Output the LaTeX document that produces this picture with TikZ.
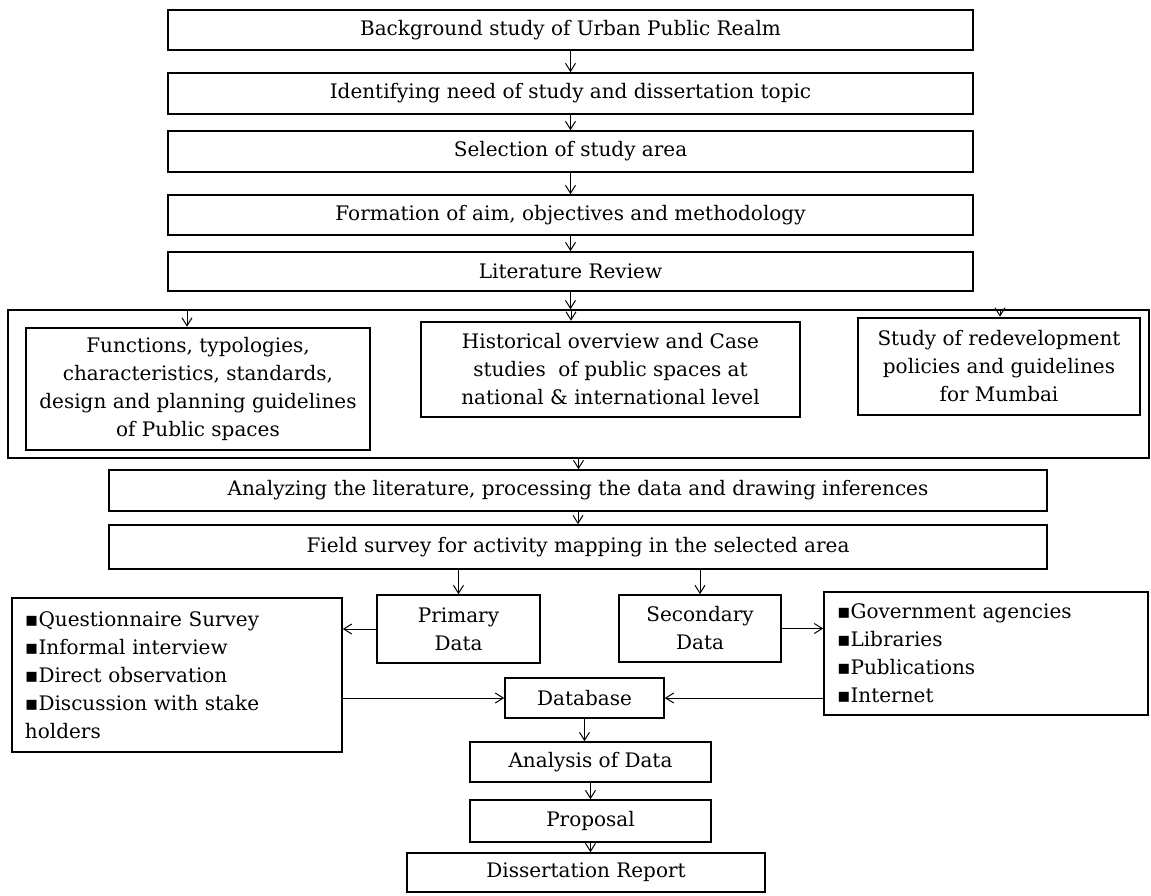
\documentclass[tikz,border=0pt]{standalone}
\usepackage{fontspec}
\setmainfont{DejaVu Serif}
\newfontfamily\bulfont{DejaVu Sans}
\usetikzlibrary{arrows.meta}
\newcommand\bul{{\bulfont\char"25AA}}
\begin{document}
\begin{tikzpicture}[x=0.5pt,y=-0.5pt,
  box/.style={draw=black, line width=0.8pt, inner sep=0pt, align=center, font=\fontsize{10}{14}\selectfont},
  thickbox/.style={box, line width=1.3pt},
  framebox/.style={draw=black, line width=0.7pt, inner sep=0pt},
  listbox/.style={box, align=left},
  arr/.style={draw=black, line width=0.5pt, -{Straight Barb[length=4pt,width=5pt]}}]
\useasboundingbox (0,0) rectangle (1151,895);
% frame around the literature branches
\node[framebox, minimum width=570.5pt, minimum height=74pt] (grp) at (578.5,384) {};
% main column
\node[box, minimum width=402.5pt, minimum height=20pt] (bg) at (570.5,30) {Background study of Urban Public Realm};
\node[box, minimum width=402.5pt, minimum height=20.5pt] (need) at (570.5,93.5) {Identifying need of study and dissertation topic};
\node[box, minimum width=402.5pt, minimum height=20.5pt] (sel) at (570.5,151.5) {Selection of study area};
\node[box, minimum width=402.5pt, minimum height=20pt] (form) at (570.5,215) {Formation of aim, objectives and methodology};
\node[box, minimum width=402.5pt, minimum height=19.5pt] (lit) at (570.5,271.5) {Literature Review};
% branches
\node[thickbox, minimum width=172pt, minimum height=61pt] (func) at (198,389) {Functions, typologies,\\ characteristics, standards,\\ design and planning guidelines\\ of Public spaces};
\node[thickbox, minimum width=189.5pt, minimum height=47.5pt] (hist) at (610.5,369.5) {Historical overview and Case\\ studies~ of public spaces at\\ national \& international level};
\node[thickbox, minimum width=141pt, minimum height=48.5pt] (study) at (999,366.5) {Study of redevelopment\\ policies and guidelines\\ for Mumbai};
% lower part
\node[box, minimum width=469pt, minimum height=20.5pt] (ana) at (578,490.5) {Analyzing the literature, processing the data and drawing inferences};
\node[box, minimum width=469pt, minimum height=22pt] (field) at (578,547) {Field survey for activity mapping in the selected area};
\node[box, minimum width=81.5pt, minimum height=34pt] (prim) at (458.5,629) {Primary\\ Data};
\node[box, minimum width=81pt, minimum height=33.5pt] (sec) at (700,628.5) {Secondary\\ Data};
\node[listbox, minimum width=165pt, minimum height=77pt, text width=152pt] (quest) at (177,675) {\bul Questionnaire Survey\\ \bul Informal interview\\ \bul Direct observation\\ \bul Discussion with stake\\ holders};
\node[listbox, minimum width=162pt, minimum height=61.5pt, text width=149pt] (govt) at (986,653.5) {\bul Government agencies\\ \bul Libraries\\ \bul Publications\\ \bul Internet};
\node[box, minimum width=79.5pt, minimum height=20pt] (db) at (584.5,698) {Database};
\node[box, minimum width=120.5pt, minimum height=20pt] (anal) at (590.5,762) {Analysis of Data};
\node[box, minimum width=120.5pt, minimum height=21pt] (prop) at (590.5,821) {Proposal};
\node[box, minimum width=179pt, minimum height=19.5pt] (diss) at (586,872.5) {Dissertation Report};
% connectors
\draw[arr] (bg.south) -- (need.north);
\draw[arr] (need.south) -- (sel.north);
\draw[arr] (sel.south) -- (form.north);
\draw[arr] (form.south) -- (lit.north);
\draw[arr] (lit.south) -- (lit.south |- grp.north);
\coordinate (t1) at (187,310);
\coordinate (t2) at (571,310);
\coordinate (t3) at (1000,310);
\draw[arr] (t1) -- (t1 |- func.north);
\draw[arr] (t2) -- (t2 |- hist.north);
\draw[arr] (t3) -- (t3 |- study.north);
\draw[arr] (grp.south) -- (grp.south |- ana.north);
\draw[arr] (ana.south) -- (field.north);
\draw[arr] (prim.north |- field.south) -- (prim.north);
\draw[arr] (sec.north |- field.south) -- (sec.north);
\draw[arr] (prim.west) -- (prim.west -| quest.east);
\draw[arr] (sec.east) -- (sec.east -| govt.west);
\draw[arr] (quest.east |- db.west) -- (db.west);
\draw[arr] (govt.west |- db.east) -- (db.east);
\draw[arr] (db.south) -- (db.south |- anal.north);
\draw[arr] (anal.south) -- (anal.south |- prop.north);
\draw[arr] (prop.south) -- (prop.south |- diss.north);
\end{tikzpicture}
\end{document}
